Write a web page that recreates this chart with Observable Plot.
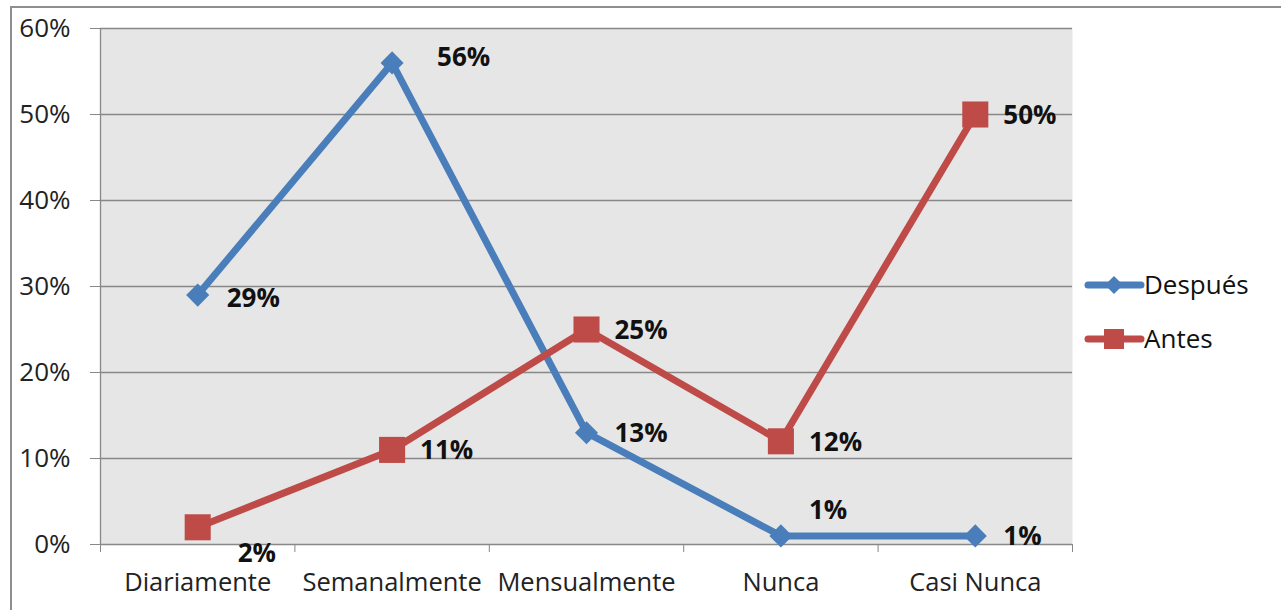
<!DOCTYPE html>
<html>
<head>
<meta charset="utf-8">
<script src="https://cdn.jsdelivr.net/npm/d3@7"></script>
<script src="https://cdn.jsdelivr.net/npm/@observablehq/plot@0.6"></script>
<style>
  html, body { margin: 0; padding: 0; background: #fff; overflow: hidden; }
  #wrap { position: relative; width: 1281px; height: 610px; }
  #frame { position: absolute; left: 10px; top: 6px; width: 1400px; height: 700px; border: 2px solid #8e8e8e; box-sizing: border-box; }
  #chart { position: absolute; left: 0; top: 0; }
  #legend { position: absolute; left: 0; top: 0; }
</style>
</head>
<body>
<div id="wrap">
  <div id="frame"></div>
  <div id="chart"></div>
  <svg id="legend" width="1281" height="610"></svg>
</div>
<script>
const categories = ["Diariamente", "Semanalmente", "Mensualmente", "Nunca", "Casi Nunca"];
const seriesNames = ["Después", "Antes"];
const despues = [29, 56, 13, 1, 1];
const antes = [2, 11, 25, 12, 50];
const yTicks = [0, 10, 20, 30, 40, 50, 60];

const colors = {"Después": "#4a7ebb", "Antes": "#be4b48"};
const FONT = "'Open Sans', sans-serif";

const rows = [];
categories.forEach((c, i) => rows.push({i, cat: c, value: despues[i], series: "Después"}));
categories.forEach((c, i) => rows.push({i, cat: c, value: antes[i], series: "Antes"}));

// label offsets (style only)
const labelOffset = (d) => {
  const key = d.series + "|" + d.cat;
  const special = {
    "Después|Diariamente": [29, 4],
    "Después|Semanalmente": [45, -5],
    "Después|Nunca": [28, -25],
    "Antes|Diariamente": [40, 26],
    "Antes|Semanalmente": [28, 1]
  };
  return special[key] || [28, 1];
};

const boundaries = d3.range(categories.length + 1).map(k => k - 0.5);

const labelMarks = rows.map(d => {
  const [dx, dy] = labelOffset(d);
  return Plot.text([d], {
    x: "i", y: "value", text: r => r.value + "%",
    dx, dy, textAnchor: "start", fontWeight: "bold", fontSize: 26, fill: "#111"
  });
});

const chart = Plot.plot({
  width: 1281,
  height: 610,
  marginLeft: 100,
  marginRight: 209,
  marginTop: 28,
  marginBottom: 66,
  style: {fontFamily: FONT, fontSize: "25px", background: "transparent", overflow: "visible"},
  x: {domain: [-0.5, categories.length - 0.5]},
  y: {domain: [0, 60]},
  marks: [
    Plot.frame({fill: "#e6e6e6", stroke: null}),
    Plot.ruleY(yTicks.slice(1), {stroke: "#888", strokeWidth: 1.3}),
    Plot.ruleX([-0.5], {stroke: "#888", strokeWidth: 1.3}),
    Plot.ruleY([0], {stroke: "#888", strokeWidth: 1.3}),
    Plot.axisY(yTicks, {tickSize: 10, tickPadding: 20, tickFormat: d => d + "%", fontSize: 26, stroke: "#888", fill: "#222", label: null}),
    Plot.axisX(boundaries, {tickSize: 8, tickFormat: () => "", stroke: "#888", label: null}),
    Plot.axisX(d3.range(categories.length), {tickSize: 0, tickPadding: 28, tickFormat: i => categories[i], fontSize: 25.5, fill: "#222", label: null}),
    Plot.line(rows.filter(d => d.series === "Después"), {x: "i", y: "value", stroke: colors["Después"], strokeWidth: 7, strokeLinejoin: "round"}),
    Plot.line(rows.filter(d => d.series === "Antes"), {x: "i", y: "value", stroke: colors["Antes"], strokeWidth: 7, strokeLinejoin: "round"}),
    Plot.dot(rows.filter(d => d.series === "Después"), {x: "i", y: "value", symbol: "diamond2", r: 10.4, fill: colors["Después"], stroke: null}),
    Plot.dot(rows.filter(d => d.series === "Antes"), {x: "i", y: "value", symbol: "square", r: 14.7, fill: colors["Antes"], stroke: null}),
    ...labelMarks
  ]
});
document.getElementById("chart").appendChild(chart);

// legend
const lg = d3.select("#legend");
seriesNames.forEach((name, k) => {
  const y = 285 + k * 54;
  const g = lg.append("g");
  g.append("line").attr("x1", 1088).attr("x2", 1141).attr("y1", y).attr("y2", y)
    .attr("stroke", colors[name]).attr("stroke-width", 7).attr("stroke-linecap", "round");
  if (k === 0) {
    const s = 9;
    g.append("path").attr("d", `M${1114},${y - s}L${1114 + s},${y}L${1114},${y + s}L${1114 - s},${y}Z`).attr("fill", colors[name]);
  } else {
    g.append("rect").attr("x", 1114 - 10).attr("y", y - 10).attr("width", 20).attr("height", 20).attr("fill", colors[name]);
  }
  g.append("text").attr("x", 1144).attr("y", y + 9).attr("font-family", FONT).attr("font-size", 26).attr("fill", "#111").text(name);
});
</script>
</body>
</html>
